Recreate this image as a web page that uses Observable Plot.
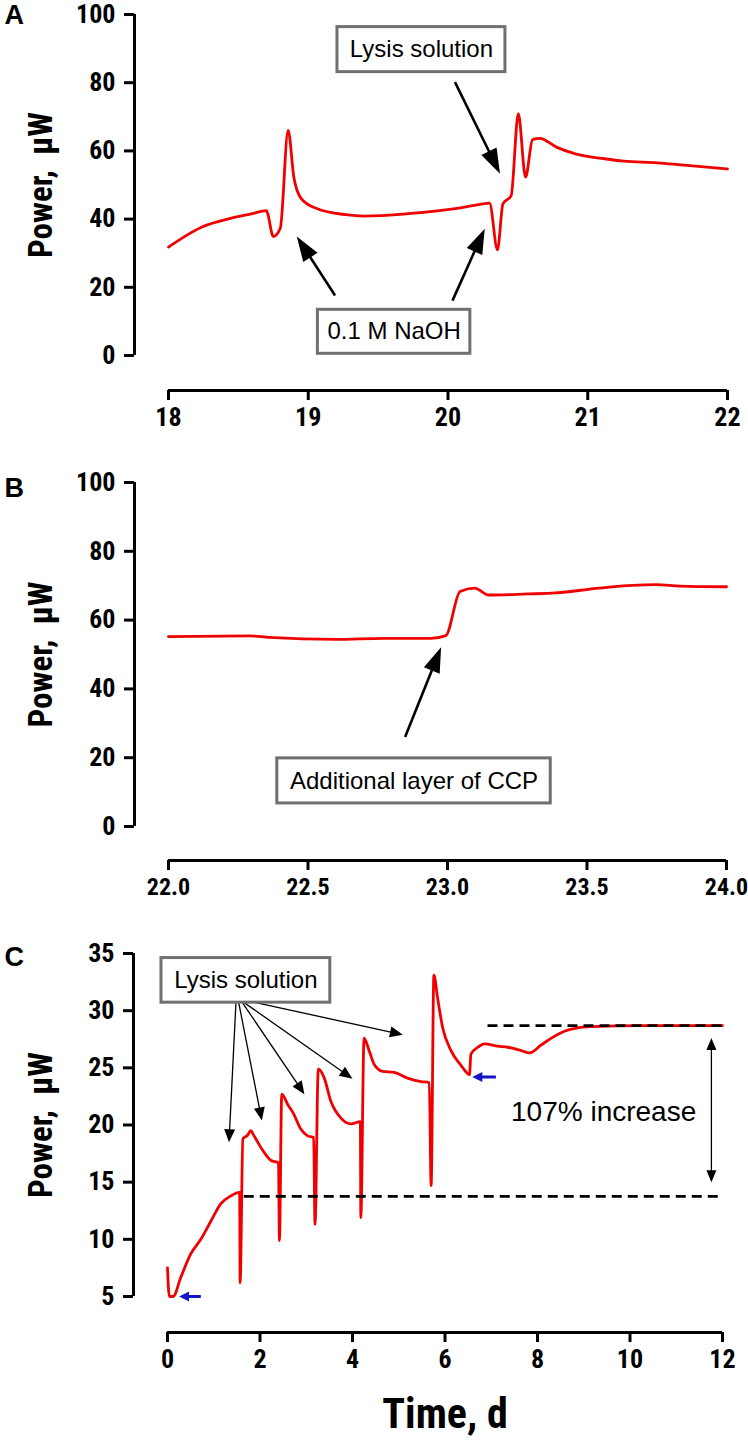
<!DOCTYPE html>
<html>
<head>
<meta charset="utf-8">
<script src="https://cdn.jsdelivr.net/npm/d3@7"></script>
<script src="https://cdn.jsdelivr.net/npm/@observablehq/plot@0.6"></script>
<style>
  html, body { margin: 0; padding: 0; background: #fff; }
  #fig svg { display: block; }
</style>
</head>
<body>
<div id="fig"></div>
<script>
// ---------- Panel A data ----------
const dayA   = [18.0, 18.1, 18.236, 18.444, 18.6, 18.70, 18.75, 18.80, 18.856, 18.897, 18.95, 19.06, 19.267, 19.40, 19.714, 20.09, 20.228, 20.297, 20.354, 20.393, 20.452, 20.503, 20.555, 20.605, 20.657, 20.776, 20.912, 21.12, 21.256, 21.498, 21.669, 22.0];
const powerA = [31.8, 34.5, 37.6, 40.2, 41.6, 42.5, 34.9, 37.3, 66.0, 52.3, 46.0, 43.1, 41.3, 40.9, 41.6, 43.3, 44.3, 44.7, 31.0, 44.5, 46.9, 70.9, 52.3, 63.3, 63.7, 61.1, 59.1, 57.7, 57.0, 56.5, 55.9, 54.7];
const xTicksA = [18, 19, 20, 21, 22];
const yTicksA = [0, 20, 40, 60, 80, 100];
const boxesA = [
  {label: "Lysis solution", x1: 19.209, x2: 20.411, y1: 83.1, y2: 96.3},
  {label: "0.1 M NaOH",     x1: 19.069, x2: 20.160, y1: 0.5,  y2: 13.4}
];
const arrowsA = [
  {x1: 20.05,  y1: 80.15, x2: 20.372, y2: 53.3},
  {x1: 19.192, y1: 17.6,  x2: 18.918, y2: 34.9},
  {x1: 20.032, y1: 16.1,  x2: 20.263, y2: 37.2}
];

// ---------- Panel B data ----------
const dayB   = [22.0, 22.29, 22.36, 22.60, 22.77, 22.94, 22.994, 23.045, 23.097, 23.148, 23.286, 23.388, 23.543, 23.663, 23.749, 23.834, 24.0];
const powerB = [55.2, 55.4, 55.0, 54.4, 54.7, 54.7, 55.5, 68.3, 69.3, 67.3, 67.6, 67.9, 69.3, 70.1, 70.3, 69.9, 69.7];
const xTicksB = [22.0, 22.5, 23.0, 23.5, 24.0];
const yTicksB = [0, 20, 40, 60, 80, 100];
const boxesB = [
  {label: "Additional layer of CCP", x1: 22.390, x2: 23.370, y1: 6.7, y2: 19.8}
];
const arrowsB = [
  {x1: 22.848, y1: 26.0, x2: 22.977, y2: 52.1}
];

// ---------- Panel C data ----------
const dayC   = [0.00, 0.04, 0.12, 0.29, 0.50, 0.72, 0.94, 1.15, 1.37, 1.56, 1.57, 1.63, 1.73, 1.80, 1.87, 2.09, 2.24, 2.40, 2.42, 2.47, 2.60, 2.71, 2.89, 3.03, 3.16, 3.19, 3.26, 3.39, 3.53, 3.75, 3.97, 4.17, 4.18, 4.25, 4.36, 4.47, 4.65, 4.90, 5.19, 5.48, 5.66, 5.70, 5.76, 5.84, 5.95, 6.13, 6.35, 6.49, 6.53, 6.56, 6.71, 6.85, 7.14, 7.36, 7.65, 7.83, 8.08, 8.30, 8.58, 8.87, 9.16, 10.24, 12.0];
const powerC = [7.5, 5.0, 5.0, 6.7, 8.7, 10.0, 11.6, 13.1, 13.8, 14.1, 6.2, 18.8, 19.1, 19.5, 19.05, 17.6, 16.9, 16.7, 9.9, 22.7, 21.8, 21.1, 19.6, 19.05, 18.9, 11.3, 24.9, 24.1, 22.1, 20.6, 20.1, 20.3, 11.9, 27.6, 26.5, 25.3, 24.7, 24.6, 24.1, 23.8, 23.7, 14.7, 33.1, 31.1, 28.5, 26.5, 25.2, 24.5, 24.4, 26.2, 26.8, 27.1, 26.9, 26.8, 26.5, 26.3, 27.0, 27.6, 28.2, 28.5, 28.6, 28.7, 28.7];
const xTicksC = [0, 2, 4, 6, 8, 10, 12];
const yTicksC = [5, 10, 15, 20, 25, 30, 35];
const boxesC = [
  {label: "Lysis solution", x1: -0.13, x2: 3.52, y1: 30.7, y2: 34.6}
];
const arrowsC = [
  {x1: 1.48, y1: 30.7, x2: 1.33, y2: 18.5},
  {x1: 1.54, y1: 30.7, x2: 2.04, y2: 20.4},
  {x1: 1.62, y1: 30.7, x2: 2.96, y2: 22.7},
  {x1: 1.66, y1: 30.7, x2: 4.00, y2: 24.05},
  {x1: 1.91, y1: 30.7, x2: 5.09, y2: 27.9}
];
const blueArrowsC = [
  {x1: 0.72, y1: 5.0,  x2: 0.25, y2: 5.0},
  {x1: 7.10, y1: 24.2, x2: 6.59, y2: 24.2}
];
const levelsC = [
  {x1: 1.66, x2: 12.0, y: 13.75},
  {x1: 6.93, x2: 12.0, y: 28.7}
];
const spanC = [{x1: 11.76, y1: 27.6, x2: 11.76, y2: 15.0}];
const noteC = [{label: "107% increase", x: 9.43, y: 21.1}];

// ---------- helpers ----------
const FONT = '"Liberation Sans", Arial, Helvetica, sans-serif';
const NARROW = '"Roboto Condensed", "Open Sans Condensed", "Liberation Sans", Arial, sans-serif';
const W = 748;
const RED = "#f00000";

function headSymbol(len, hw) {
  return {
    draw(ctx) {
      ctx.moveTo(0, 0);
      ctx.lineTo(-hw, len);
      ctx.lineTo(hw, len);
      ctx.closePath();
    }
  };
}

function arrowMarks(list, sx, sy, {stroke = "black", strokeWidth = 2.5, len = 24, hw = 8, both = false} = {}) {
  const heads = [], shafts = [];
  for (const a of list) {
    const X1 = sx.apply(a.x1), Y1 = sy.apply(a.y1), X2 = sx.apply(a.x2), Y2 = sy.apply(a.y2);
    const px = X2 - X1, py = Y2 - Y1, L = Math.hypot(px, py);
    const ux = px / L, uy = py / L;
    const ang = Math.atan2(px, -py) * 180 / Math.PI;
    const cut = len * 0.6;
    const e2 = {x: sx.invert(X2 - ux * cut), y: sy.invert(Y2 - uy * cut)};
    const e1 = both ? {x: sx.invert(X1 + ux * cut), y: sy.invert(Y1 + uy * cut)} : {x: a.x1, y: a.y1};
    shafts.push({x1: e1.x, y1: e1.y, x2: e2.x, y2: e2.y});
    heads.push({x: a.x2, y: a.y2, a: ang});
    if (both) heads.push({x: a.x1, y: a.y1, a: ang + 180});
  }
  return [
    Plot.link(shafts, {x1: "x1", y1: "y1", x2: "x2", y2: "y2", stroke, strokeWidth}),
    Plot.dot(heads, {x: "x", y: "y", rotate: "a", symbol: headSymbol(len, hw), r: 1, fill: stroke, stroke: "none"})
  ];
}

function panel(o) {
  const sx = Plot.scale({x: {domain: o.xDomain, range: [o.ml, W - o.mr]}});
  const sy = Plot.scale({y: {domain: o.yDomain, range: [o.height - o.mb, o.mt]}});
  const table = o.days.map((d, i) => ({day: d, power: o.powers[i]}));
  const marks = [
    // detached y axis line
    Plot.ruleX([{x: o.xDomain[0], y1: o.yDomain[0], y2: o.yDomain[1]}], {x: "x", y1: "y1", y2: "y2", dx: -34, strokeWidth: 3, stroke: "black"}),
    Plot.axisY({ticks: o.yTicks, tickSize: 10, tickPadding: 9, strokeWidth: 3, fontSize: 26, fontFamily: NARROW, fontWeight: "bold", dx: -34, label: null}),
    // detached x axis line
    Plot.ruleY([{y: o.yDomain[0], x1: o.xDomain[0], x2: o.xDomain[1]}], {y: "y", x1: "x1", x2: "x2", dy: o.gap, strokeWidth: 3, stroke: "black"}),
    Plot.axisX({ticks: o.xTicks, tickFormat: o.xFmt, tickSize: 10, tickPadding: 7, strokeWidth: 3, fontSize: o.xFont || 26, fontFamily: NARROW, fontWeight: "bold", dy: o.gap, label: null}),
    // y axis title
    Plot.text(["Power,  μW"], {text: d => d, frameAnchor: "left", dx: 41 - o.ml, rotate: -90, fontSize: 33, fontFamily: NARROW, fontWeight: "bold", textAnchor: "middle", lineAnchor: "middle"}),
    // panel letter
    Plot.text([o.letter], {text: d => d, frameAnchor: "top-left", dx: 4 - o.ml, dy: o.letterDy, fontSize: 27, fontWeight: "bold", textAnchor: "start", lineAnchor: "top"}),
    Plot.line(table, {x: "day", y: "power", stroke: RED, strokeWidth: 2.8, strokeLinejoin: "round", curve: "monotone-x"}),
    ...(o.after ? o.after(sx, sy) : []),
    Plot.rect(o.boxes, {x1: "x1", x2: "x2", y1: "y1", y2: "y2", fill: "white", stroke: "#707070", strokeWidth: 3}),
    Plot.text(o.boxes, {x: d => (d.x1 + d.x2) / 2, y: d => (d.y1 + d.y2) / 2, text: "label", fontSize: 24, fontWeight: "normal", fill: "black"})
  ];
  if (o.xLabel) {
    marks.push(Plot.text([o.xLabel], {text: d => d, frameAnchor: "bottom", dy: o.xLabelDy, fontSize: 42, fontFamily: NARROW, fontWeight: "bold", lineAnchor: "middle"}));
  }
  return Plot.plot({
    width: W, height: o.height,
    marginTop: o.mt, marginBottom: o.mb, marginLeft: o.ml, marginRight: o.mr,
    x: {domain: o.xDomain},
    y: {domain: o.yDomain},
    style: {fontFamily: FONT, fontWeight: "bold", color: "black", background: "white", overflow: "visible"},
    marks
  });
}

const fig = document.getElementById("fig");

// Panel A
{
  const o = {height: 460, mt: 14, mb: 105, ml: 168, mr: 21, gap: 35,
    xDomain: [18, 22], yDomain: [0, 100], xTicks: xTicksA, yTicks: yTicksA, xFmt: d3.format("d"),
    days: dayA, powers: powerA, boxes: boxesA, letter: "A", letterDy: -10};
  o.after = (sx, sy) => arrowMarks(arrowsA, sx, sy, {strokeWidth: 2.6, len: 25, hw: 8.5});
  fig.appendChild(panel(o));
}

// Panel B
{
  const o = {height: 460, mt: 22, mb: 94, ml: 168, mr: 22, gap: 34, xFont: 24,
    xDomain: [22, 24], yDomain: [0, 100], xTicks: xTicksB, yTicks: yTicksB, xFmt: d3.format(".1f"),
    days: dayB, powers: powerB, boxes: boxesB, letter: "B", letterDy: -5};
  o.after = (sx, sy) => arrowMarks(arrowsB, sx, sy, {strokeWidth: 2.6, len: 25, hw: 8.5});
  fig.appendChild(panel(o));
}

// Panel C
{
  const o = {height: 524, mt: 33, mb: 148, ml: 167, mr: 26, gap: 36,
    xDomain: [0, 12], yDomain: [5, 35], xTicks: xTicksC, yTicks: yTicksC, xFmt: d3.format("d"),
    days: dayC, powers: powerC, boxes: boxesC, letter: "C", letterDy: -7,
    xLabel: "Time, d", xLabelDy: 118};
  o.after = (sx, sy) => [
    Plot.ruleY(levelsC, {y: "y", x1: "x1", x2: "x2", stroke: "black", strokeWidth: 2.8, strokeDasharray: "10,6"}),
    ...arrowMarks(arrowsC, sx, sy, {strokeWidth: 1.3, len: 13, hw: 5.5}),
    ...arrowMarks(blueArrowsC, sx, sy, {stroke: "#1414c8", strokeWidth: 3, len: 10, hw: 5}),
    ...arrowMarks(spanC, sx, sy, {strokeWidth: 1.3, len: 12, hw: 5, both: true}),
    Plot.text(noteC, {x: "x", y: "y", text: "label", fontSize: 28, fontWeight: "normal", fill: "black"})
  ];
  fig.appendChild(panel(o));
}
</script>
</body>
</html>
